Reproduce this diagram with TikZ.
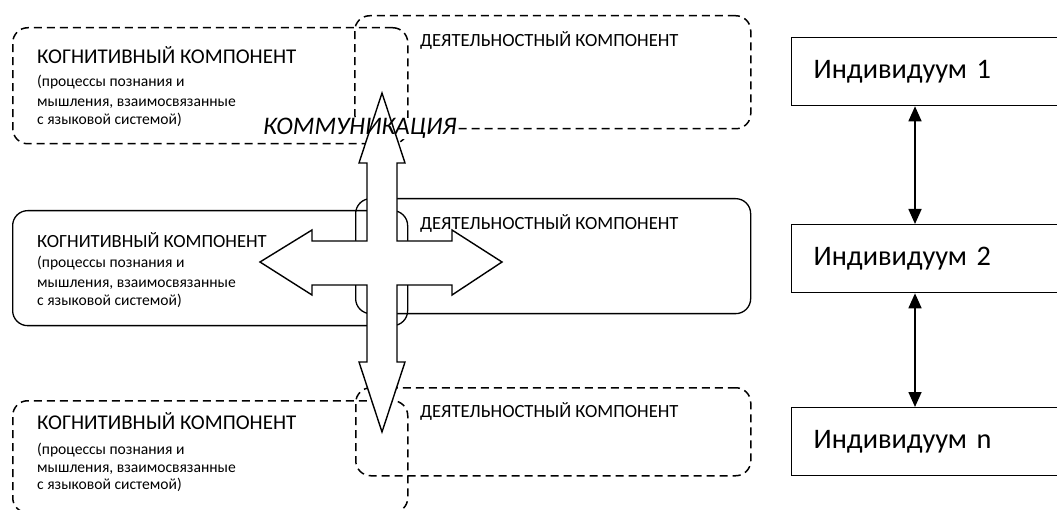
\documentclass[tikz,border=0pt]{standalone}
\usepackage{fontspec}
\setmainfont{Carlito}
\usetikzlibrary{arrows.meta,calc}
\pgfdeclarelayer{boxlayer}
\pgfdeclarelayer{patchlayer}
\pgfdeclarelayer{arrowlayer}
\pgfsetlayers{boxlayer,patchlayer,arrowlayer,main}
\begin{document}
\begin{tikzpicture}[x=1pt,y=-1pt,
  dbox/.style={draw, dash pattern=on 8pt off 5pt, line width=1.5pt, rounded corners=15pt, inner sep=0pt, anchor=north west},
  sbox/.style={draw, line width=1.3pt, rounded corners=15pt, inner sep=0pt, anchor=north west},
  txt/.style={anchor=base west, inner sep=0pt},
  head/.style={txt, font=\fontsize{21}{24}\selectfont},
  headmid/.style={txt, font=\fontsize{18.6}{22}\selectfont},
  small/.style={txt, font=\fontsize{15.6}{18}\selectfont},
  act/.style={txt, font=\fontsize{18.6}{21}\selectfont},
  comm/.style={txt, font=\fontsize{25.3}{29}\selectfont\itshape},
  indbox/.style={draw, line width=1.3pt, anchor=north west, minimum height=68pt, text width=246pt, inner xsep=22pt, align=left, font=\fontsize{28.3}{32}\selectfont},
  dbl/.style={{Triangle[length=15pt,width=13pt]}-{Triangle[length=15pt,width=13pt]}, line width=1.6pt}
]
\useasboundingbox (0,0) rectangle (1057,510);

\begin{pgfonlayer}{boxlayer}
\node[dbox, minimum width=395pt, minimum height=116pt] (cog1) at (12,27) {};
\node[dbox, minimum width=396pt, minimum height=113pt] (act1) at (354,15) {};
\node[sbox, minimum width=395pt, minimum height=115pt] (cog2) at (12,210) {};
\node[sbox, minimum width=395pt, minimum height=115pt] (act2) at (355,198) {};
\node[dbox, minimum width=395pt, minimum height=112pt] (cog3) at (12,400) {};
\node[dbox, minimum width=395pt, minimum height=88pt] (act3) at (355,387) {};
\end{pgfonlayer}

% texts
\node[head] (c1h) at (37,64) {КОГНИТИВНЫЙ КОМПОНЕНТ};
\node[small] (c1a) at (37,87) {(процессы познания и};
\node[small] (c1b) at (37,107) {мышления, взаимосвязанные};
\node[small] (c1c) at (37,125) {с языковой системой)};
\node[act] (a1t) at (420,47) {ДЕЯТЕЛЬНОСТНЫЙ КОМПОНЕНТ};

\node[headmid] (c2h) at (37,248) {КОГНИТИВНЫЙ КОМПОНЕНТ};
\node[small] (c2a) at (37,268) {(процессы познания и};
\node[small] (c2b) at (37,288) {мышления, взаимосвязанные};
\node[small] (c2c) at (37,306) {с языковой системой)};
\node[act] (a2t) at (420,230) {ДЕЯТЕЛЬНОСТНЫЙ КОМПОНЕНТ};

\node[head] (c3h) at (37,429) {КОГНИТИВНЫЙ КОМПОНЕНТ};
\node[small] (c3a) at (37,454) {(процессы познания и};
\node[small] (c3b) at (37,472) {мышления, взаимосвязанные};
\node[small] (c3c) at (37,489) {с языковой системой)};
\node[act] (a3t) at (420,417) {ДЕЯТЕЛЬНОСТНЫЙ КОМПОНЕНТ};

\node[comm] (comm) at (263,135) {КОММУНИКАЦИЯ};

\begin{pgfonlayer}{patchlayer}
\fill[white] (comm.south west) rectangle (comm.north east);
\end{pgfonlayer}

\begin{pgfonlayer}{arrowlayer}
\filldraw[fill=white, line width=1.4pt, line join=miter]
 (382,93) -- (405,163) -- (397,163) -- (397,241) -- (452,241) -- (452,230)
 -- (502,262) -- (452,295) -- (452,285) -- (397,285) -- (397,362) -- (405,362)
 -- (382,432) -- (359,362) -- (367,362) -- (367,285) -- (312,285) -- (312,295)
 -- (260,262) -- (312,230) -- (312,241) -- (367,241) -- (367,163) -- (359,163) -- cycle;
\end{pgfonlayer}

% individuals
\node[indbox] (ind1) at (791,37) {Индивидуум 1};
\node[indbox] (ind2) at (791,224) {Индивидуум 2};
\node[indbox] (indn) at (791,407) {Индивидуум n};
\draw[dbl] ([xshift=124pt]ind1.south west) -- ([xshift=124pt]ind2.north west);
\draw[dbl] ([xshift=124pt]ind2.south west) -- ([xshift=124pt]indn.north west);
\end{tikzpicture}
\end{document}
